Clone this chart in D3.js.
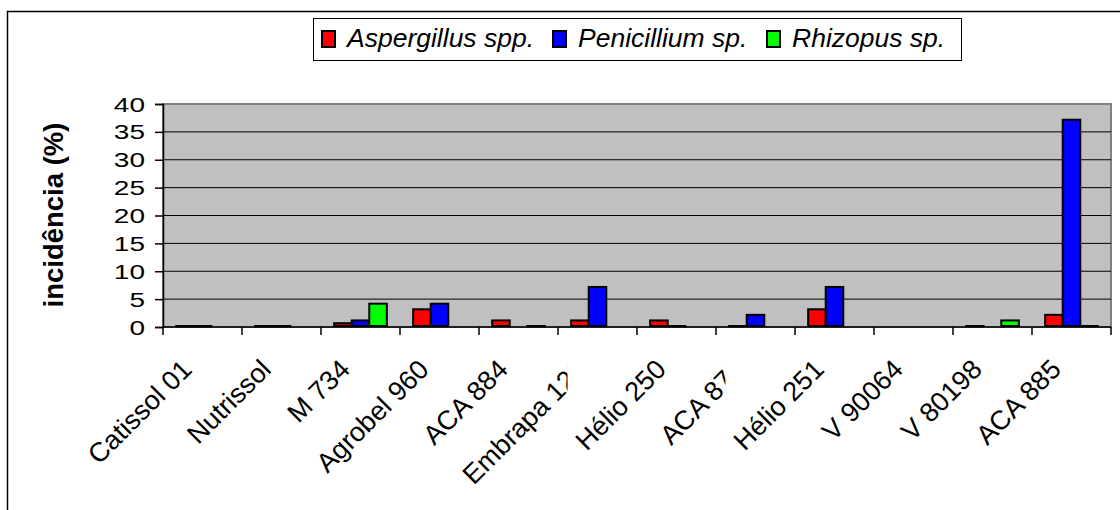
<!DOCTYPE html>
<html>
<head>
<meta charset="utf-8">
<script src="https://cdn.jsdelivr.net/npm/d3@7"></script>
<style>
  body {margin: 0; background: #fff;}
  text {font-family: Arial, 'Liberation Sans', sans-serif; fill: #000;}
</style>
</head>
<body>
<div id="chart"></div>
<script>
var categories = ['Catissol 01', 'Nutrissol', 'M 734', 'Agrobel 960', 'ACA 884', 'Embrapa 122',
  'Hélio 250', 'ACA 872', 'Hélio 251', 'V 90064', 'V 80198', 'ACA 885']

// null = no bar at all, 0 = flat bar drawn as a line
var aspergillus = [0, 0, 0.5, 3, 1, 1, 1, 0, 3, null, 0, 2]
var penicillium = [0, 0, 1, 4, null, 7, 0, 2, 7, null, null, 37]
var rhizopus = [null, null, 4, null, 0, null, null, null, null, null, 1, 0]

var seriesNames = ['Aspergillus spp.', 'Penicillium sp.', 'Rhizopus sp.']
var seriesColors = ['#ff0000', '#0000ff', '#00ff00']
var yTicks = [0, 5, 10, 15, 20, 25, 30, 35, 40]

// labels cut off by the category box in the original
var clippedLabels = ['Embrapa 122', 'ACA 872']

var width = 1120, height = 510
var plot = {left: 163, right: 1111, top: 104, bottom: 327}

var svg = d3.select('#chart').append('svg')
  .attr('width', width).attr('height', height)

var defs = svg.append('defs')

// outer chart frame, only left and top show in the window
svg.append('rect')
  .attr('x', 7.5).attr('y', 11.5)
  .attr('width', width + 20).attr('height', height + 20)
  .attr('fill', '#fff').attr('stroke', '#000').attr('stroke-width', 1.5)

var x = d3.scaleBand().domain(categories).range([plot.left, plot.right])
var bw = x.bandwidth()
var x1 = d3.scaleBand().domain(seriesNames).range([bw/6, bw*5/6])
var y = d3.scaleLinear().domain([0, 40]).range([plot.bottom, plot.top])

// plot area
svg.append('rect')
  .attr('x', plot.left).attr('y', plot.top)
  .attr('width', plot.right - plot.left).attr('height', plot.bottom - plot.top)
  .attr('fill', '#c0c0c0').attr('stroke', '#808080').attr('stroke-width', 2)

svg.append('g').selectAll('line')
  .data(yTicks.filter(d => d > 0 && d < 40))
  .join('line')
  .attr('x1', plot.left).attr('x2', plot.right)
  .attr('y1', d => y(d)).attr('y2', d => y(d))
  .attr('stroke', '#000').attr('stroke-width', 1)

// axes
var yAxis = svg.append('g')
  .attr('transform', 'translate(' + plot.left + ',0)')
  .call(d3.axisLeft(y).tickValues(yTicks).tickSize(8).tickPadding(0).tickFormat(d3.format('d')))
yAxis.select('.domain').attr('stroke', '#000').attr('stroke-width', 1.5)
yAxis.selectAll('.tick line').attr('stroke', '#000').attr('stroke-width', 1.5)
yAxis.selectAll('.tick text')
  .attr('x', 0).attr('dy', null)
  .attr('font-size', 20)
  .attr('font-family', null)
  .attr('text-anchor', 'end')
  .attr('transform', 'translate(-18,7) scale(1.4,1)')

var xAxis = svg.append('g')
  .attr('transform', 'translate(0,' + plot.bottom + ')')
xAxis.append('line')
  .attr('x1', plot.left).attr('x2', plot.right)
  .attr('stroke', '#000').attr('stroke-width', 1.5)
xAxis.selectAll('line.tk')
  .data(categories.concat(['end']))
  .join('line').attr('class', 'tk')
  .attr('x1', (d, i) => plot.left + i*bw).attr('x2', (d, i) => plot.left + i*bw)
  .attr('y1', 0).attr('y2', 8)
  .attr('stroke', '#000').attr('stroke-width', 1.5)

// bars (a zero value still shows as a flat outlined bar)
var rows = categories.map((c, i) => ({c, vals: [aspergillus[i], penicillium[i], rhizopus[i]]}))

var groupSel = svg.append('g').selectAll('g')
  .data(rows)
  .join('g')
  .attr('transform', d => 'translate(' + x(d.c) + ',0)')

groupSel.selectAll('rect')
  .data(d => d.vals.map((v, j) => ({v, j})).filter(e => e.v != null))
  .join('rect')
  .attr('x', d => x1(seriesNames[d.j]))
  .attr('width', x1.bandwidth())
  .attr('y', d => y(d.v) - 1)
  .attr('height', d => Math.max(y(0) - y(d.v), 0.2))
  .attr('fill', d => seriesColors[d.j])
  .attr('stroke', '#000').attr('stroke-width', 2)

// category labels, rotated
clippedLabels.forEach(c => {
  defs.append('clipPath').attr('id', 'clip-' + categories.indexOf(c))
    .append('rect')
    .attr('x', 0).attr('y', 0)
    .attr('width', x(c) + bw/2 - 30).attr('height', height)
})

svg.append('g').selectAll('g')
  .data(categories)
  .join('g')
  .attr('clip-path', (d, i) => clippedLabels.includes(d) ? 'url(#clip-' + i + ')' : null)
  .append('text')
  .attr('transform', d => 'translate(' + (x(d) + bw/2 - 9) + ',371) rotate(-45)')
  .attr('text-anchor', 'end')
  .attr('font-size', 27)
  .text(d => d)

// y title
svg.append('text')
  .attr('transform', 'translate(63,215) rotate(-90)')
  .attr('text-anchor', 'middle')
  .attr('font-size', 27.5)
  .attr('font-weight', 'bold')
  .text('incidência (%)')

// legend
var legend = svg.append('g')
legend.append('rect')
  .attr('x', 313.5).attr('y', 18.5).attr('width', 648).attr('height', 42)
  .attr('fill', '#fff').attr('stroke', '#000').attr('stroke-width', 1)

var legendX = [322, 553, 767]
var itemSel = legend.selectAll('g.item')
  .data(seriesNames)
  .join('g').attr('class', 'item')
  .attr('transform', (d, i) => 'translate(' + legendX[i] + ',0)')

itemSel.append('rect')
  .attr('x', 0).attr('y', 31).attr('width', 13).attr('height', 16)
  .attr('fill', (d, i) => seriesColors[i])
  .attr('stroke', '#000').attr('stroke-width', 2)

itemSel.append('text')
  .attr('x', 25).attr('y', 47)
  .attr('font-size', 26.5)
  .attr('font-style', 'italic')
  .text(d => d)
</script>
</body>
</html>
